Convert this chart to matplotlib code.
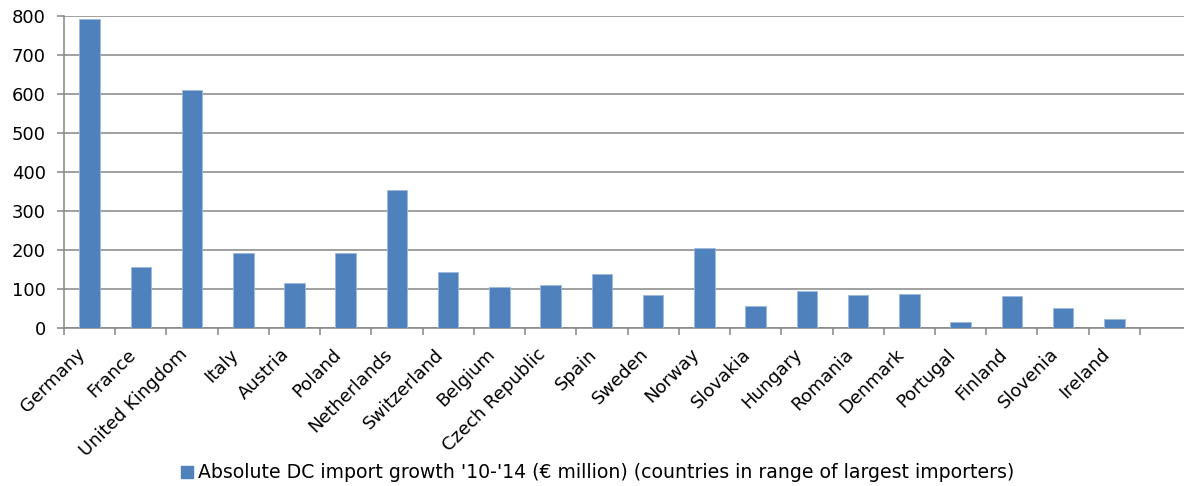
import numpy as np
import matplotlib
matplotlib.use("Agg")
import matplotlib.pyplot as plt
import matplotlib.transforms as mtransforms
from matplotlib.patches import Patch

# data
countries = ["Germany", "France", "United Kingdom", "Italy", "Austria", "Poland",
             "Netherlands", "Switzerland", "Belgium", "Czech Republic", "Spain",
             "Sweden", "Norway", "Slovakia", "Hungary", "Romania", "Denmark",
             "Portugal", "Finland", "Slovenia", "Ireland"]
growth = [791, 157, 609, 192, 115, 193, 354, 145, 106, 111, 139,
          85, 205, 57, 96, 85, 87, 17, 82, 52, 25]
y_ticks = [0, 100, 200, 300, 400, 500, 600, 700, 800]
series_label = "Absolute DC import growth '10-'14 (\u20ac million) (countries in range of largest importers)"

bar_color = "#4F81BD"
grid_color = "#868686"
fs = 13

plt.rcParams["font.family"] = ["DejaVu Sans"]

fig = plt.figure(figsize=(11.84, 4.86), dpi=100)
ax = fig.add_axes([0.054, 0.3245, 0.946, 0.6432])

x = np.arange(len(countries))
ax.bar(x, growth, width=0.4, color=bar_color, edgecolor="#9DB9DE", linewidth=0.6, zorder=3)

ax.set_ylim(0, 800)
ax.set_yticks(y_ticks)
ax.set_xlim(-0.5, 21.36)
ax.grid(axis="y", color=grid_color, linewidth=1.1, zorder=0)

# category labels on major ticks, tick marks at the category boundaries
ax.set_xticks(x)
ax.set_xticklabels(countries, rotation=45, ha="right", rotation_mode="anchor")
ax.set_xticks(np.arange(-0.5, 21.0, 1.0), minor=True)
ax.tick_params(axis="x", which="major", length=0, pad=10, labelsize=fs)
ax.tick_params(axis="x", which="minor", length=5, width=1.1, color=grid_color)
ax.tick_params(axis="y", length=5, width=1.1, color=grid_color, labelsize=fs, pad=8)

shift = mtransforms.ScaledTranslation(-14 / 100, -3 / 100, fig.dpi_scale_trans)
for lbl in ax.get_xticklabels():
    lbl.set_transform(lbl.get_transform() + shift)

for side in ("top", "right"):
    ax.spines[side].set_visible(False)
for side in ("left", "bottom"):
    ax.spines[side].set_color(grid_color)
    ax.spines[side].set_linewidth(1.1)

handle = Patch(facecolor=bar_color, edgecolor=bar_color)
fig.legend([handle], [series_label], loc="center", bbox_to_anchor=(0.505, 0.027),
           frameon=False, fontsize=13.6, handlelength=0.6, handleheight=0.6,
           handletextpad=0.3)

fig.savefig("out.png", dpi=100)
